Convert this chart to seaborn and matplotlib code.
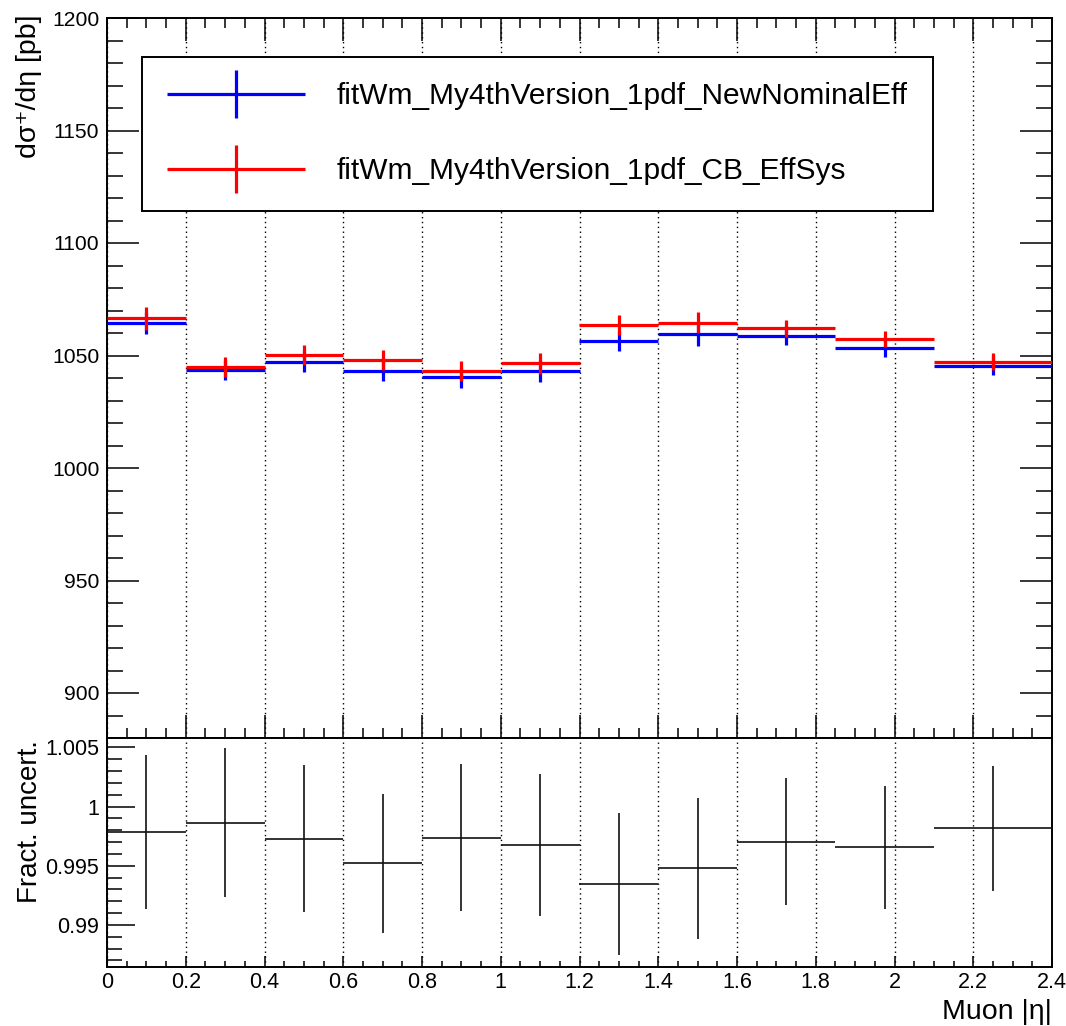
import numpy as np
import pandas as pd
import matplotlib
matplotlib.use("Agg")
import matplotlib.pyplot as plt
import seaborn as sns
from matplotlib.ticker import MultipleLocator, FuncFormatter
from matplotlib.container import ErrorbarContainer
from matplotlib.legend_handler import HandlerErrorbar

# ---------------- data ----------------
bin_edges = [0.0, 0.2, 0.4, 0.6, 0.8, 1.0, 1.2, 1.4, 1.6, 1.85, 2.1, 2.4]
nominal = [1064.3, 1043.6, 1047.3, 1043.1, 1040.3, 1043.1, 1056.4, 1059.4, 1058.8, 1053.5, 1045.5]
nominal_err = [4.9, 4.5, 4.5, 4.4, 4.6, 4.7, 4.4, 5.0, 4.1, 4.0, 4.2]
cbsys = [1066.5, 1045.0, 1050.2, 1048.0, 1043.1, 1046.5, 1063.6, 1064.6, 1062.1, 1057.2, 1047.3]
cbsys_err = [5.1, 4.5, 4.5, 4.4, 4.5, 4.5, 4.4, 4.6, 3.8, 3.6, 3.8]
ratio = [0.99786, 0.99862, 0.99730, 0.99520, 0.99739, 0.99674, 0.99345, 0.99477, 0.99705, 0.99657, 0.99817]
ratio_err = [0.0065, 0.0063, 0.0062, 0.0059, 0.0062, 0.0060, 0.0060, 0.0060, 0.0054, 0.0052, 0.0053]
label_nominal = "fitWm_My4thVersion_1pdf_NewNominalEff"
label_cbsys = "fitWm_My4thVersion_1pdf_CB_EffSys"

edges = np.array(bin_edges)
df = pd.DataFrame({
    "center": 0.5 * (edges[:-1] + edges[1:]),
    "half": 0.5 * (edges[1:] - edges[:-1]),
    "nominal": nominal, "nominal_err": nominal_err,
    "cbsys": cbsys, "cbsys_err": cbsys_err,
    "ratio": ratio, "ratio_err": ratio_err,
})

# ---------------- style ----------------
sns.set_theme(style="ticks")
plt.rcParams["font.family"] = ["Liberation Sans", "DejaVu Sans"]
plt.rcParams["axes.edgecolor"] = "black"
plt.rcParams["text.color"] = "black"
plt.rcParams["axes.labelcolor"] = "black"
plt.rcParams["xtick.color"] = "black"
plt.rcParams["ytick.color"] = "black"

W, H = 1066, 1026
fig = plt.figure(figsize=(W / 100, H / 100), dpi=100)
fig.patch.set_facecolor("white")
x0, x1 = 107, 1052
ax = fig.add_axes([x0 / W, 1 - 738 / H, (x1 - x0) / W, 720 / H])
axr = fig.add_axes([x0 / W, 1 - 966.7 / H, (x1 - x0) / W, 228.7 / H])

blue = "#0000ff"
red = "#ff0000"

h_nom = ax.errorbar(df["center"], df["nominal"], xerr=df["half"], yerr=df["nominal_err"],
                    fmt="none", ecolor=blue, elinewidth=2.3, capsize=0, label=label_nominal, zorder=3)
h_cb = ax.errorbar(df["center"], df["cbsys"], xerr=df["half"], yerr=df["cbsys_err"],
                   fmt="none", ecolor=red, elinewidth=2.3, capsize=0, label=label_cbsys, zorder=4)

axr.errorbar(df["center"], df["ratio"], xerr=df["half"], yerr=df["ratio_err"],
             fmt="none", ecolor="#111111", elinewidth=1.2, capsize=0, zorder=3)

fmt = FuncFormatter(lambda v, p: f"{v:g}")
for a in (ax, axr):
    a.set_xlim(0, 2.4)
    a.xaxis.set_major_locator(MultipleLocator(0.2))
    a.xaxis.set_minor_locator(MultipleLocator(0.05))
    a.xaxis.set_major_formatter(fmt)
    a.yaxis.set_major_formatter(fmt)
    a.grid(False)
    a.xaxis.grid(True, which="major", linestyle=(0, (1, 2.5)), color="black", linewidth=1.0, zorder=1)
    for s in a.spines.values():
        s.set_linewidth(1.4)
        s.set_color("black")
        s.set_visible(True)
    a.set_facecolor("white")

ax.set_ylim(880, 1200)
ax.yaxis.set_major_locator(MultipleLocator(50))
ax.yaxis.set_minor_locator(MultipleLocator(10))
ax.tick_params(axis="both", which="both", direction="in", top=True, right=True,
               labelbottom=False, labelsize=15.2, width=1.1, colors="black")
ax.tick_params(axis="y", which="major", length=23, pad=5.5)
ax.tick_params(axis="y", which="minor", length=11.5)
ax.tick_params(axis="x", which="major", length=16.5)
ax.tick_params(axis="x", which="minor", length=7.5)

axr.set_ylim(0.98647, 1.0058)
axr.yaxis.set_major_locator(MultipleLocator(0.005))
axr.yaxis.set_minor_locator(MultipleLocator(0.001))
axr.tick_params(axis="both", which="both", direction="in", top=False, right=False,
                labelsize=15.5, width=1.1, colors="black")
axr.tick_params(axis="y", which="major", length=20, pad=5.5)
axr.tick_params(axis="y", which="minor", length=10.5)
axr.tick_params(axis="x", which="major", length=8, pad=3.5)
axr.tick_params(axis="x", which="minor", length=4)

leg = ax.legend(handles=[h_nom, h_cb], loc="upper left",
                bbox_to_anchor=(0.037, 0.724, 0.837, 0.222), mode="expand",
                borderaxespad=0, fontsize=21.5, frameon=True, fancybox=False,
                edgecolor="black", framealpha=1, labelspacing=1.58, borderpad=0.85,
                handlelength=4.62, handletextpad=1.05,
                handler_map={ErrorbarContainer: HandlerErrorbar(xerr_size=2.31, yerr_size=0.8)})
leg.get_frame().set_linewidth(1.4)
leg.set_zorder(10)

fig.text(28.5 / W, 1 - 15 / H, "dσ⁺/dη [pb]", rotation=90, ha="center", va="top", fontsize=20.5)
fig.text(30.5 / W, 1 - 740 / H, "Fract. uncert.", rotation=90, ha="center", va="top", fontsize=20)
fig.text(1052 / W, 1 - 1019 / H, "Muon |η|", ha="right", va="baseline", fontsize=20.5)

fig.savefig("out.png", dpi=100, facecolor="white")
